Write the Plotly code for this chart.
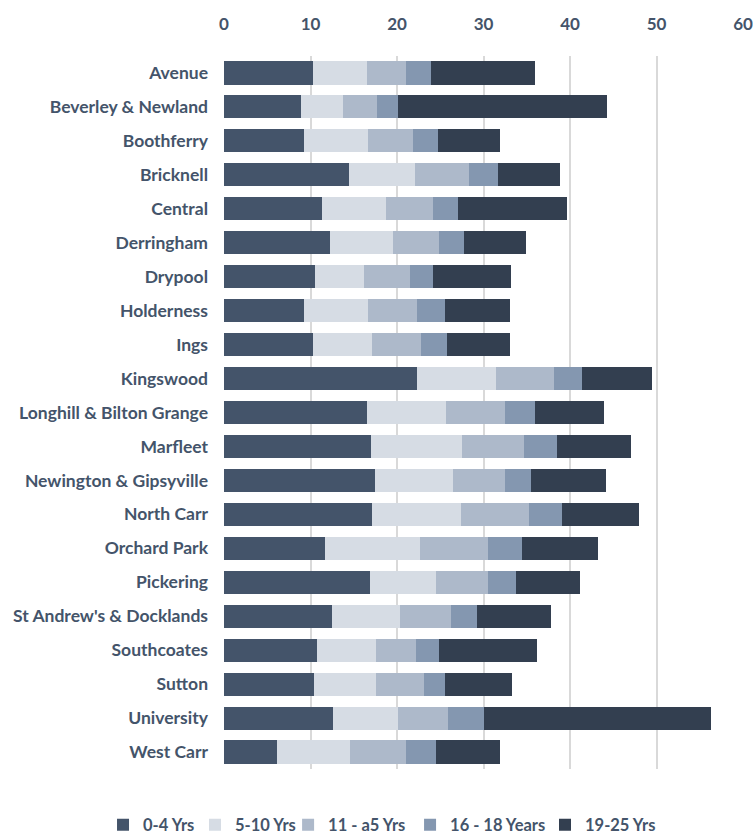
import plotly.graph_objects as go

wards = ["Avenue", "Beverley & Newland", "Boothferry", "Bricknell", "Central", "Derringham",
         "Drypool", "Holderness", "Ings", "Kingswood", "Longhill & Bilton Grange", "Marfleet",
         "Newington & Gipsyville", "North Carr", "Orchard Park", "Pickering",
         "St Andrew's & Docklands", "Southcoates", "Sutton", "University", "West Carr"]

age_0_4 = [10.3, 8.9, 9.3, 14.5, 11.3, 12.3, 10.5, 9.3, 10.3, 22.3, 16.5, 17.0, 17.5, 17.1, 11.7, 16.9, 12.5, 10.8, 10.4, 12.6, 6.1]
age_5_10 = [6.2, 4.9, 7.4, 7.6, 7.4, 7.2, 5.7, 7.4, 6.8, 9.2, 9.2, 10.5, 9.0, 10.3, 11.0, 7.6, 7.9, 6.8, 7.2, 7.5, 8.5]
age_11_15 = [4.5, 3.9, 5.2, 6.2, 5.5, 5.4, 5.3, 5.6, 5.7, 6.7, 6.8, 7.2, 6.0, 7.9, 7.8, 6.0, 5.8, 4.6, 5.5, 5.8, 6.4]
age_16_18 = [2.9, 2.4, 2.8, 3.4, 2.9, 2.8, 2.7, 3.3, 3.0, 3.2, 3.5, 3.8, 3.0, 3.8, 3.9, 3.3, 3.1, 2.6, 2.5, 4.2, 3.5]
age_19_25 = [12.1, 24.2, 7.2, 7.1, 12.5, 7.2, 9.0, 7.5, 7.3, 8.1, 7.9, 8.5, 8.7, 8.9, 8.8, 7.3, 8.5, 11.4, 7.7, 26.2, 7.4]

series_names = ["0-4 Yrs", "5-10 Yrs", "11 - a5 Yrs", "16 - 18 Years", "19-25 Yrs"]
series_values = [age_0_4, age_5_10, age_11_15, age_16_18, age_19_25]
colors = ["#44546a", "#d6dce4", "#adb9ca", "#8497b0", "#333f50"]

x_ticks = [0, 10, 20, 30, 40, 50, 60]

# horizontal placement (paper fraction) of each legend entry
legend_x = [-0.2331, -0.0559, 0.1235, 0.3585, 0.6185]
legend_ids = ["legend", "legend2", "legend3", "legend4", "legend5"]

label_color = "#44546a"

fig = go.Figure()
for name, vals, col, lid in zip(series_names, series_values, colors, legend_ids):
    fig.add_trace(go.Bar(
        y=wards, x=vals, name=name, orientation="h",
        marker=dict(color=col, line=dict(width=0)),
        legend=lid, showlegend=True,
    ))

legend_layouts = {}
for lid, lx in zip(legend_ids, legend_x):
    legend_layouts[lid] = dict(
        orientation="h", xref="paper", x=lx, xanchor="left",
        yref="paper", y=-0.0785, yanchor="middle",
        font=dict(family="Lato", size=16.5, color=label_color, weight="bold"),
        itemwidth=30, bgcolor="rgba(0,0,0,0)",
    )

fig.update_layout(
    barmode="stack",
    bargap=0.32,
    showlegend=True,
    width=753, height=834,
    margin=dict(l=224, r=10, t=56, b=65, autoexpand=False),
    paper_bgcolor="white",
    plot_bgcolor="white",
    font=dict(family="Lato", size=16, color=label_color, weight="bold"),
    xaxis=dict(
        side="top", range=[0, 60], tickvals=x_ticks,
        showgrid=True, gridcolor="#d9d9d9", gridwidth=1.5,
        zeroline=False, showline=False, automargin=False,
        tickfont=dict(family="Lato", size=17, color=label_color, weight="bold"),
        ticklabelstandoff=22,
    ),
    yaxis=dict(
        autorange="reversed", showgrid=False, showline=False, zeroline=False,
        automargin=False,
        tickfont=dict(family="Lato", size=17.5, color=label_color, weight="bold"),
        ticklabelstandoff=15,
    ),
    **legend_layouts,
)

fig.write_html("out.html")
